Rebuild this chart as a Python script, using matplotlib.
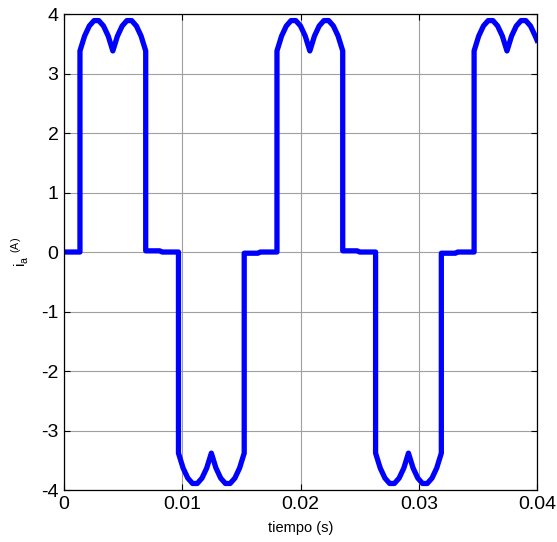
import numpy as np
import matplotlib
matplotlib.use("Agg")
import matplotlib.pyplot as plt

# line current, time in ms
t_ms = [0.0, 1.35,
        1.35, 1.74, 2.14, 2.54, 2.94, 3.34, 3.74, 4.13, 4.52, 4.92, 5.32, 5.72, 6.12, 6.52, 6.91,
        6.91, 8.1, 8.3, 9.68,
        9.68, 10.07, 10.47, 10.87, 11.27, 11.67, 12.07, 12.46, 12.85, 13.25, 13.65, 14.05, 14.45, 14.85, 15.24,
        15.24, 16.4, 16.6, 18.01,
        18.01, 18.40, 18.80, 19.20, 19.60, 20.00, 20.40, 20.79, 21.18, 21.58, 21.98, 22.38, 22.78, 23.18, 23.57,
        23.57, 24.8, 25.0, 26.35,
        26.35, 26.74, 27.14, 27.54, 27.94, 28.34, 28.74, 29.13, 29.52, 29.92, 30.32, 30.72, 31.12, 31.52, 31.91,
        31.91, 33.1, 33.3, 34.68,
        34.68, 35.07, 35.47, 35.87, 36.27, 36.67, 37.07, 37.46, 37.85, 38.25, 38.65, 39.05, 39.45, 39.85, 40.0]

i_a = [0.0, 0.0,
       3.38, 3.63, 3.80, 3.89, 3.89, 3.80, 3.63, 3.38, 3.63, 3.80, 3.89, 3.89, 3.80, 3.63, 3.38,
       0.02, 0.02, 0.0, 0.0,
       -3.38, -3.63, -3.80, -3.89, -3.89, -3.80, -3.63, -3.38, -3.63, -3.80, -3.89, -3.89, -3.80, -3.63, -3.38,
       -0.02, -0.02, 0.0, 0.0,
       3.38, 3.63, 3.80, 3.89, 3.89, 3.80, 3.63, 3.38, 3.63, 3.80, 3.89, 3.89, 3.80, 3.63, 3.38,
       0.02, 0.02, 0.0, 0.0,
       -3.38, -3.63, -3.80, -3.89, -3.89, -3.80, -3.63, -3.38, -3.63, -3.80, -3.89, -3.89, -3.80, -3.63, -3.38,
       -0.02, -0.02, 0.0, 0.0,
       3.38, 3.63, 3.80, 3.89, 3.89, 3.80, 3.63, 3.38, 3.63, 3.80, 3.89, 3.89, 3.80, 3.63, 3.56]

x_ticks = [0, 0.01, 0.02, 0.03, 0.04]
x_labels = ["0", "0.01", "0.02", "0.03", "0.04"]
y_ticks = [-4, -3, -2, -1, 0, 1, 2, 3, 4]

plt.rcParams['font.family'] = ['Liberation Sans', 'DejaVu Sans']
plt.rcParams['axes.unicode_minus'] = False
plt.rcParams['mathtext.fontset'] = 'custom'
plt.rcParams['mathtext.rm'] = 'Liberation Sans'

fig = plt.figure(figsize=(5.57, 5.42), dpi=100)
ax = fig.add_axes([0.1149, 0.0959, 0.8492, 0.8782])

t = np.array(t_ms) / 1000.0
ax.plot(t, i_a, color=(0, 0, 1), linewidth=3.8, solid_joinstyle='round')

ax.set_xlim(0, 0.04)
ax.set_ylim(-4, 4)
ax.set_xticks(x_ticks)
ax.set_xticklabels(x_labels)
ax.set_yticks(y_ticks)
ax.grid(True, color='#a0a0a0', linewidth=0.8, linestyle='-')
ax.tick_params(direction='in', length=4, width=0.8, labelsize=14,
               top=True, right=True, pad=4)
for s in ax.spines.values():
    s.set_linewidth(0.9)

ax.set_xlabel("tiempo (s)", fontsize=10.5, labelpad=6)
ax.set_ylabel(r"i$_\mathregular{a}$ $^{\mathregular{(A)}}$", fontsize=11, labelpad=7)

fig.savefig("out.png", dpi=100)
